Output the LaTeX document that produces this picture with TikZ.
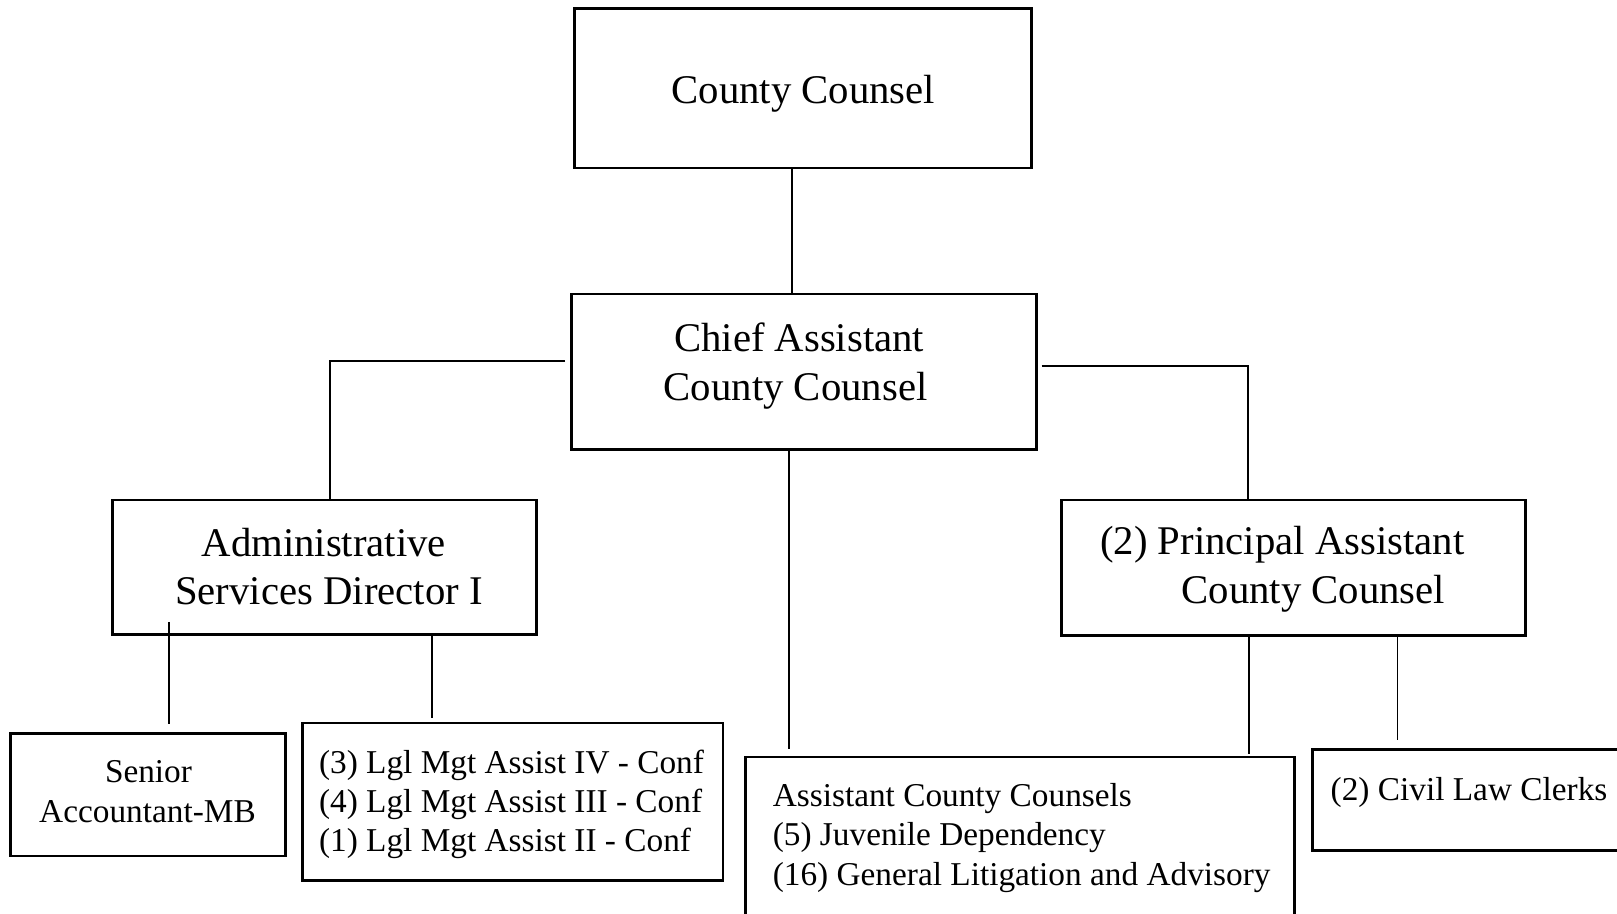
\documentclass[tikz,border=0pt]{standalone}
\usepackage{fontspec}
\setmainfont{Liberation Serif}
\usetikzlibrary{calc,fit}
\begin{document}
\begin{tikzpicture}[x=0.5pt,y=-0.5pt,
  box/.style={draw, line width=1.3pt, inner sep=0pt, outer sep=0pt},
  link/.style={draw, line width=0.8pt},
  big/.style={font=\fontsize{19.75pt}{23.5pt}\selectfont, inner sep=0pt, anchor=base},
  small/.style={font=\fontsize{16.15pt}{19.35pt}\selectfont, inner sep=0pt, anchor=base west},
  smallc/.style={small, anchor=base},
]
\useasboundingbox (0,0) rectangle (1568,886);

% boxes
\node[box, fit={(557,8) (1000,163)}] (cc) {};
\node[box, fit={(554,285) (1005,436)}] (chief) {};
\node[box, fit={(109,485) (520,615)}] (asd) {};
\node[box, fit={(1029,485) (1479,616)}] (pacc) {};
\node[box, fit={(10,711) (277,830)}] (senior) {};
\node[box, fit={(293,701) (701,854)}] (lgl) {};
\node[box, fit={(723,734) (1255,910)}] (acc) {};
\node[box, fit={(1273,727) (1600,825)}] (civil) {};

% titles
\node[big] (cc-t) at (779,100) {County Counsel};
\node[big] (chief-t1) at (775,341) {Chief Assistant};
\node[big] (chief-t2) at (771.5,388) {County Counsel};
\node[big] (asd-t1) at (314,540) {Administrative};
\node[big] (asd-t2) at (319,586) {Services Director I};
\node[big] (pacc-t1) at (1243.5,538) {(2) Principal Assistant};
\node[big] (pacc-t2) at (1273.5,585) {County Counsel};
\node[smallc] (senior-t1) at (144,759) {Senior};
\node[smallc] (senior-t2) at (143,798) {Accountant-MB};
\node[small] (lgl-t1) at (309,750) {(3) Lgl Mgt Assist IV - Conf};
\node[small] (lgl-t2) at (309,788) {(4) Lgl Mgt Assist III - Conf};
\node[small] (lgl-t3) at (309,826) {(1) Lgl Mgt Assist II - Conf};
\node[small] (acc-t1) at (749,782) {Assistant County Counsels};
\node[small] (acc-t2) at (749,820) {(5) Juvenile Dependency};
\node[small] (acc-t3) at (749,859) {(16) General Litigation and Advisory};
\node[small] (civil-t) at (1290,776) {(2) Civil Law Clerks};

% connector columns
\coordinate (xa) at (768,0);
\coordinate (xl) at (320,0);
\coordinate (xr) at (1210,0);
\coordinate (xm) at (765,0);
\coordinate (xs) at (164,0);
\coordinate (xg) at (419,0);
\coordinate (xp) at (1211,0);
\coordinate (xc) at (1355,0);
\coordinate (lstart) at (548,350);
\coordinate (rstart) at (1010,355);

% connectors
\draw[link] (cc.south -| xa) -- (chief.north -| xa);
\draw[link] (lstart) -| (asd.north -| xl);
\draw[link] (rstart) -| (pacc.north -| xr);
\draw[link] (chief.south -| xm) -- ($(acc.north -| xm)+(0,-8)$);
\draw[link] ($(asd.south -| xs)+(0,-12)$) -- ($(senior.north -| xs)+(0,-9)$);
\draw[link] (asd.south -| xg) -- ($(lgl.north -| xg)+(0,-5)$);
\draw[link] (pacc.south -| xp) -- ($(acc.north -| xp)+(0,-3)$);
\draw[link] (pacc.south -| xc) -- ($(civil.north -| xc)+(0,-9)$);
\end{tikzpicture}
\end{document}
